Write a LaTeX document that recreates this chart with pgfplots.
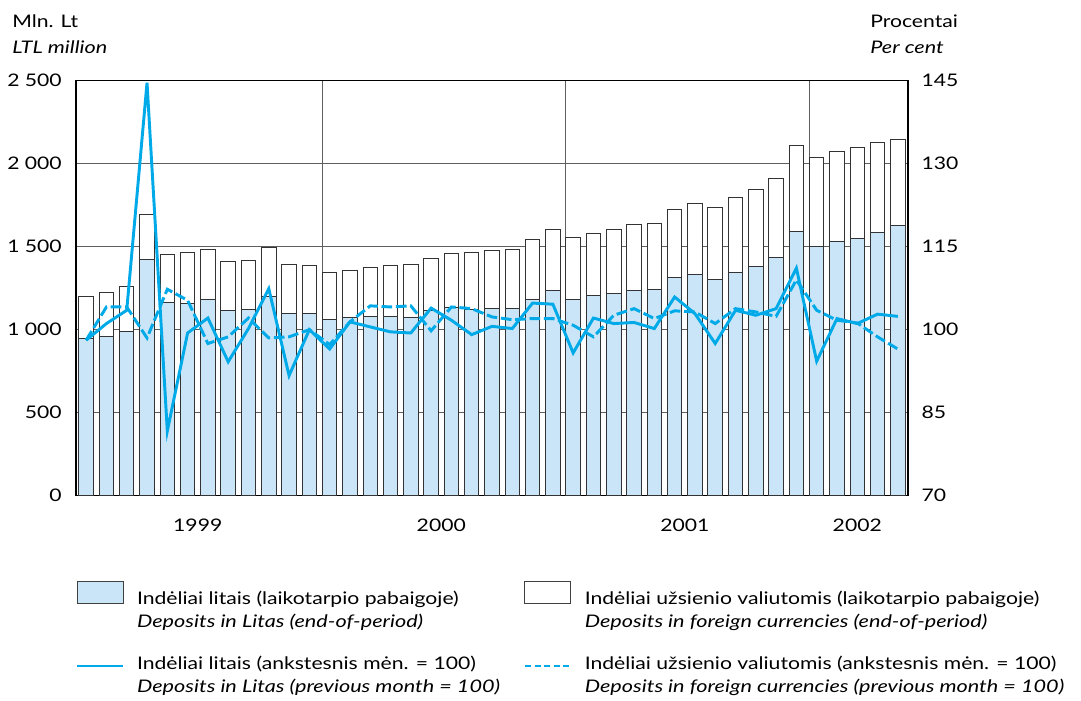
\documentclass[border=0pt]{standalone}
\usepackage{pgfplots}
\pgfplotsset{compat=1.18}
\usepackage{pgfplotstable}
\usepackage{fontspec}
\setmainfont{Lato}[FakeStretch=1.22, ItalicFeatures={FakeStretch=1.25}]
\definecolor{litfill}{RGB}{201,229,247}
\definecolor{cyanline}{RGB}{0,170,232}
\definecolor{gridgray}{RGB}{95,95,95}

% month index, deposits in litas, deposits in foreign currencies (LTL million),
% month-on-month indices (previous month = 100)
\pgfplotstableread{
x  lit  for  lline  fline
0  947  255  98.1   98.1
1  959  265  101.1  104.1
2  987  275  103.5  104.1
3  1424 271  144.6  98.5
4  1164 289  81.7   107.3
5  1158 307  99.4   105.3
6  1184 297  102.1  97.5
7  1116 295  94.2   98.7
8  1120 299  100.2  102.1
9  1200 295  107.4  98.5
10 1098 295  91.7   98.7
11 1098 289  100.0  100.0
12 1062 280  96.5   97.3
13 1074 282  101.4  101.4
14 1080 294  100.5  104.3
15 1080 304  99.6   104.1
16 1074 319  99.4   104.3
17 1116 315  103.9  99.8
18 1132 329  101.7  104.1
19 1122 343  99.1   103.8
20 1128 349  100.6  102.3
21 1128 355  100.2  101.8
22 1182 363  104.8  102.0
23 1234 369  104.6  102.0
24 1184 371  95.8   100.8
25 1208 371  102.1  98.7
26 1220 381  101.1  102.6
27 1238 395  101.3  103.8
28 1242 399  100.2  102.0
29 1312 413  105.9  103.4
30 1332 430  102.9  103.2
31 1302 434  97.5   101.1
32 1346 450  103.5  103.8
33 1380 464  102.6  103.2
34 1432 476  103.8  102.4
35 1591 515  111.1  109.0
36 1501 533  94.3   103.5
37 1529 544  102.0  101.7
38 1547 547  101.1  101.2
39 1587 540  102.8  98.7
40 1627 518  102.4  96.5
}\deposits

\newcommand{\lt}[2]{\makebox[288pt][l]{\begin{tabular}{@{}l@{}}#1\\\itshape #2\end{tabular}}}
\newcommand{\rt}[2]{\begin{tabular}{@{}l@{}}#1\\\itshape #2\end{tabular}}

\begin{document}
\fontsize{13pt}{17.5pt}\selectfont
\begin{tikzpicture}[font=\fontsize{13pt}{17.5pt}\selectfont]
\pgfplotsset{
  common/.style={
    scale only axis, width=624pt, height=311.4pt,
    xmin=-0.5, xmax=40.5,
    major tick length=0pt,
    axis line style={black, line width=0.8pt},
  },
}
\begin{axis}[
  common,
  ymin=0, ymax=2500,
  ybar stacked, bar width=0.714,
  ytick={0,500,1000,1500,2000,2500},
  yticklabels={0,500,1 000,1 500,2 000,2 500},
  yticklabel style={anchor=east, inner sep=0pt, xshift=-10.5pt},
  xtick={5.5,17.5,29.5,38},
  xticklabels={1999,2000,2001,2002},
  xticklabel style={anchor=north, inner sep=0pt, yshift=-17.5pt},
  extra x ticks={11.64,23.64,35.64},
  extra x tick labels={},
  extra x tick style={grid=major},
  ymajorgrids,
  grid style={gridgray, line width=0.8pt},
]
\addplot[fill=litfill, draw=black!80, line width=0.75pt] table[x=x, y=lit] {\deposits};
\addplot[fill=white, draw=black!80, line width=0.75pt] table[x=x, y=for] {\deposits};
\end{axis}

\begin{axis}[
  common,
  ymin=70, ymax=145,
  axis x line=none,
  axis y line*=right,
  ytick={70,85,100,115,130,145},
  yticklabel style={anchor=west, inner sep=0pt, xshift=10pt,
    /pgf/number format/assume math mode=true},
  clip=false,
  legend columns=2,
  legend cell align=left,
  legend style={at={(0,-0.2048)}, anchor=north west, draw=none, fill=none,
    inner sep=0pt, outer sep=0pt, row sep=22.5pt, column sep=0pt,
    /tikz/every odd column/.style={column sep=7.5pt}},
]
\addlegendimage{legend image code/.code={\draw[fill=litfill, draw=black!75, line width=0.8pt] (0pt,-0.25pt) rectangle (34.5pt,16.25pt);}}
\addlegendentry{\lt{Indėliai litais (laikotarpio pabaigoje)}{Deposits in Litas (end-of-period)}}
\addlegendimage{legend image code/.code={\draw[fill=white, draw=black!75, line width=0.8pt] (0pt,-0.25pt) rectangle (34.5pt,16.25pt);}}
\addlegendentry{\rt{Indėliai užsienio valiutomis (laikotarpio pabaigoje)}{Deposits in foreign currencies (end-of-period)}}
\addplot[cyanline, line width=2.2pt,
  legend image code/.code={\draw[cyanline, line width=1.8pt] (0pt,1.7pt) -- (34.5pt,1.7pt);}]
  table[x=x, y=lline] {\deposits};
\addlegendentry{\lt{Indėliai litais (ankstesnis mėn. = 100)}{Deposits in Litas (previous month = 100)}}
\addplot[cyanline, line width=2.2pt, dash pattern=on 8pt off 2.8pt,
  legend image code/.code={\draw[cyanline, line width=1.8pt, dash pattern=on 4.6pt off 2.6pt] (0pt,1.7pt) -- (34.5pt,1.7pt);}]
  table[x=x, y=fline] {\deposits};
\addlegendentry{\rt{Indėliai užsienio valiutomis (ankstesnis mėn. = 100)}{Deposits in foreign currencies (previous month = 100)}}
\end{axis}

\node[anchor=base west, inner sep=0pt] at (-48pt,350.8pt) {Mln. Lt};
\node[anchor=base west, inner sep=0pt] at (-48pt,331.3pt) {\itshape LTL million};
\node[anchor=base west, inner sep=0pt] at (595.5pt,350.8pt) {Procentai};
\node[anchor=base west, inner sep=0pt] at (595.5pt,331.3pt) {\itshape Per cent};

\pgfresetboundingbox
\path[use as bounding box] (-57pt,371.8pt) rectangle (753.75pt,-153.2pt);
\end{tikzpicture}
\end{document}
